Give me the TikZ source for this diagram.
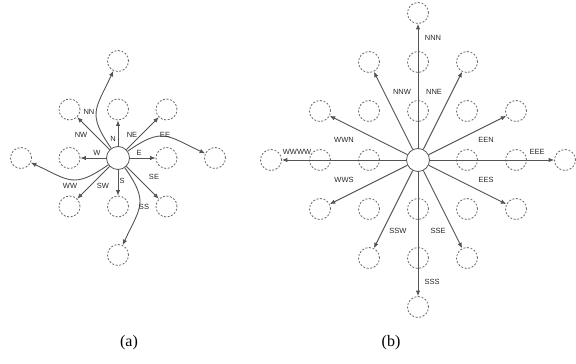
\documentclass[tikz,border=0pt]{standalone}
\usepackage{fontspec}
\setmainfont{Liberation Serif}
\newfontfamily\lblfont{Liberation Sans}
\usetikzlibrary{arrows.meta}
\definecolor{ln}{gray}{0.33}
\definecolor{dc}{gray}{0.42}
\begin{document}
\begin{tikzpicture}[x=1pt,y=1pt,
  cell/.style={circle,draw=dc,dash pattern=on 2pt off 1.6pt,line width=0.8pt,minimum size=21pt,inner sep=0pt},
  hub/.style={circle,draw=ln,line width=0.8pt,fill=white,minimum size=23pt,inner sep=0pt},
  arr/.style={draw=ln,line width=0.9pt,-{Latex[length=5.5pt,width=4.5pt]}},
  lbl/.style={font=\lblfont\fontsize{7.5}{8}\selectfont,text=black!85,inner sep=0pt},
  captxt/.style={font=\fontsize{16}{18}\selectfont,inner sep=0pt}]
\useasboundingbox (0,0) rectangle (576,364);

% ---------- panel (a) ----------
\node[cell] (aN)  at (118,254.5) {};
\node[cell] (aNE) at (166.5,254.5) {};
\node[cell] (aE)  at (166.5,206) {};
\node[cell] (aSE) at (166.5,157.5) {};
\node[cell] (aS)  at (118,157.5) {};
\node[cell] (aSW) at (69.5,157.5) {};
\node[cell] (aW)  at (69.5,206) {};
\node[cell] (aNW) at (69.5,254.5) {};
\node[cell] (aNN) at (118,303) {};
\node[cell] (aEE) at (215,206) {};
\node[cell] (aSS) at (118,109) {};
\node[cell] (aWW) at (21,206) {};
\node[hub]  (a0)  at (118,206) {};

\draw[arr] (a0) -- (aN);
\draw[arr] (a0) -- (aNE);
\draw[arr] (a0) -- (aE);
\draw[arr] (a0) -- (aSE);
\draw[arr] (a0) -- (aS);
\draw[arr] (a0) -- (aSW);
\draw[arr] (a0) -- (aW);
\draw[arr] (a0) -- (aNW);
\draw[arr] (a0) to[out=125,in=245,looseness=1.4] (aNN);
\draw[arr] (a0) to[out=35,in=155,looseness=1.4] (aEE);
\draw[arr] (a0) to[out=-55,in=65,looseness=1.4] (aSS);
\draw[arr] (a0) to[out=-145,in=-25,looseness=1.4] (aWW);

\node[lbl] (lN)  at (113,225) {N};
\node[lbl] (lNE) at (132,229) {NE};
\node[lbl] (lNW) at (81,229) {NW};
\node[lbl] (lNN) at (89,252) {NN};
\node[lbl] (lEE) at (165,229) {EE};
\node[lbl] (lE)  at (139,211) {E};
\node[lbl] (lW)  at (97,211) {W};
\node[lbl] (lWW) at (70,178) {WW};
\node[lbl] (lSW) at (103,178) {SW};
\node[lbl] (lS)  at (122,183) {S};
\node[lbl] (lSE) at (154,187) {SE};
\node[lbl] (lSS) at (144,157) {SS};

% ---------- panel (b) ----------
\foreach \i/\j in {0/3,-1/2,0/2,1/2,-2/1,-1/1,0/1,1/1,2/1,-3/0,-2/0,-1/0,1/0,2/0,3/0,-2/-1,-1/-1,0/-1,1/-1,2/-1,-1/-2,0/-2,1/-2,0/-3}
  \node[cell] (b\i\j) at ({418+49*(\i)},{204+49*(\j)}) {};
\node[hub] (b00) at (418,204) {};

\draw[arr] (b00) -- (b03);
\draw[arr] (b00) -- (b-12);
\draw[arr] (b00) -- (b12);
\draw[arr] (b00) -- (b-21);
\draw[arr] (b00) -- (b21);
\draw[arr] (b00) -- (b-30);
\draw[arr] (b00) -- (b30);
\draw[arr] (b00) -- (b-2-1);
\draw[arr] (b00) -- (b2-1);
\draw[arr] (b00) -- (b-1-2);
\draw[arr] (b00) -- (b1-2);
\draw[arr] (b00) -- (b0-3);

\node[lbl] (lNNN)  at (433,326) {NNN};
\node[lbl] (lNNW)  at (402,272) {NNW};
\node[lbl] (lNNE)  at (434,272) {NNE};
\node[lbl] (lWWN)  at (344,224) {WWN};
\node[lbl] (lEEN)  at (486,224) {EEN};
\node[lbl] (lWWWW) at (297,212) {WWWW};
\node[lbl] (lEEE)  at (537,212) {EEE};
\node[lbl] (lWWS)  at (344,184) {WWS};
\node[lbl] (lEES)  at (486,184) {EES};
\node[lbl] (lSSW)  at (398,133) {SSW};
\node[lbl] (lSSE)  at (438,133) {SSE};
\node[lbl] (lSSS)  at (432,82) {SSS};

% ---------- captions ----------
\node[captxt] (capa) at (129,21) {(a)};
\node[captxt] (capb) at (391,21) {(b)};
\end{tikzpicture}
\end{document}
